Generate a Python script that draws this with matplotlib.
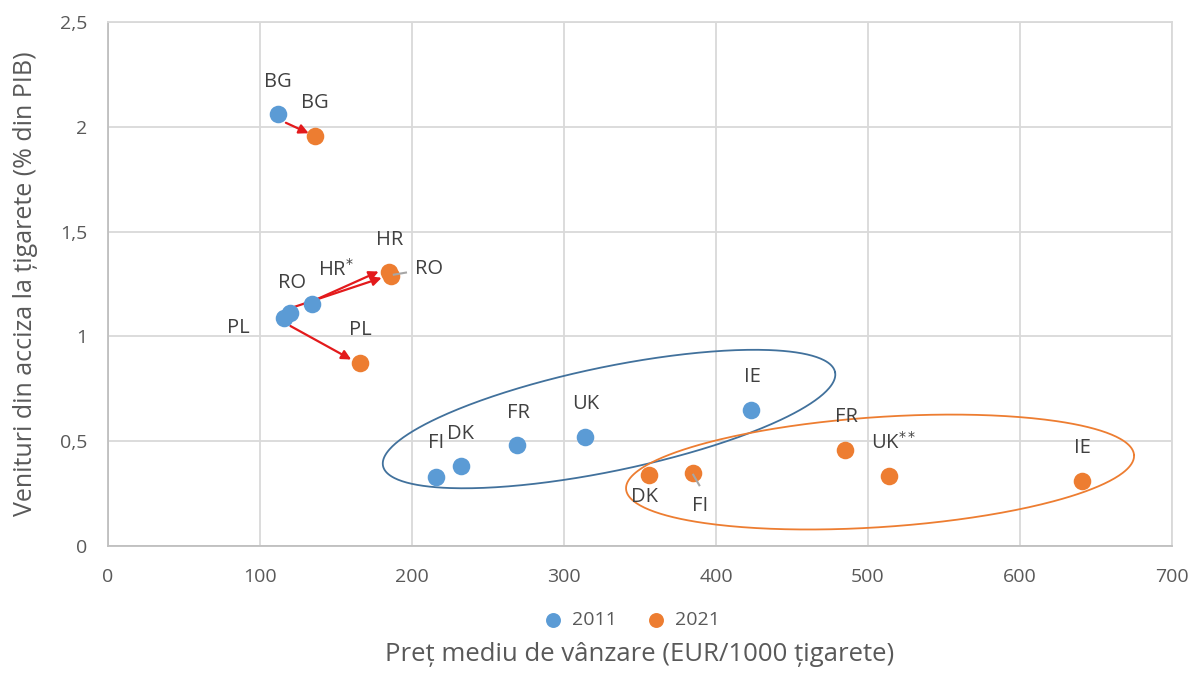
import numpy as np
import matplotlib
matplotlib.use("Agg")
import matplotlib.pyplot as plt

plt.rcParams['font.family'] = ['Open Sans', 'DejaVu Sans']

countries = ["BG", "PL", "RO", "HR", "FI", "DK", "FR", "UK", "IE"]
price_2011 = [112, 116, 120, 134, 216, 232, 269, 314, 423]
excise_2011 = [2.06, 1.09, 1.11, 1.155, 0.33, 0.38, 0.48, 0.52, 0.65]
price_2021 = [136, 166, 186, 185, 385, 356, 485, 514, 641]
excise_2021 = [1.955, 0.875, 1.29, 1.31, 0.35, 0.34, 0.46, 0.335, 0.31]

labels_2011 = {"BG": "BG", "PL": "PL", "RO": "RO", "HR": "HR$^{*}$", "FI": "FI",
               "DK": "DK", "FR": "FR", "UK": "UK", "IE": "IE"}
labels_2021 = {"BG": "BG", "PL": "PL", "RO": "RO", "HR": "HR", "FI": "FI",
               "DK": "DK", "FR": "FR", "UK": "UK$^{**}$", "IE": "IE"}

x_ticks = [0, 100, 200, 300, 400, 500, 600, 700]
y_ticks = [0, 0.5, 1, 1.5, 2, 2.5]
y_tick_labels = ["0", "0,5", "1", "1,5", "2", "2,5"]

BLUE = "#5B9BD5"
ORANGE = "#ED7D31"
TXT = "#404040"
TICK = "#595959"

fig = plt.figure(figsize=(11.94, 6.73), dpi=100)
ax = fig.add_axes([0.0905, 0.1887, 0.8911, 0.7783])
ax.set_xlim(0, 700)
ax.set_ylim(0, 2.5)
ax.set_xticks(x_ticks)
ax.set_yticks(y_ticks)
ax.set_yticklabels(y_tick_labels)
ax.grid(True, color="#D9D9D9", linewidth=1.3, zorder=0)
ax.set_axisbelow(True)
for s in ax.spines.values():
    s.set_color("#D9D9D9")
    s.set_linewidth(1.3)
ax.spines['left'].set_color("#BFBFBF")
ax.spines['bottom'].set_color("#BFBFBF")
ax.tick_params(length=0, labelsize=14, colors=TICK)
ax.tick_params(axis="x", pad=16)
ax.tick_params(axis="y", pad=15)

# ellipses (parametric, defined by center and two conjugate half-vectors in data units)
t = np.linspace(0, 2 * np.pi, 400)
def ell(c, u, v):
    return (c[0] + u[0] * np.cos(t) + v[0] * np.sin(t),
            c[1] + u[1] * np.cos(t) + v[1] * np.sin(t))
ex, ey = ell((329.6, 0.606), (148.7, 0.224), (7.0, -0.243))
ax.plot(ex, ey, color="#41719C", linewidth=1.3, zorder=2)
ex, ey = ell((507.9, 0.353), (167.1, 0.081), (2.4, -0.262))
ax.plot(ex, ey, color=ORANGE, linewidth=1.3, zorder=2)

ax.scatter(price_2011, excise_2011, s=160, color=BLUE, zorder=4, label="2011", linewidths=0)
ax.scatter(price_2021, excise_2021, s=160, color=ORANGE, zorder=4, label="2021", linewidths=0)

# arrows 2011 -> 2021 for BG, PL, RO, HR
arrow_pairs = {"BG": ((117, 2.02), (132, 1.97)),
               "HR": ((138, 1.18), (178, 1.31)),
               "RO": ((122, 1.14), (180, 1.28)),
               "PL": ((120, 1.05), (160, 0.89))}
for k, (a, b) in arrow_pairs.items():
    ax.annotate("", xy=b, xytext=a,
                arrowprops=dict(arrowstyle="-|>", color="#E31A1C", lw=1.6,
                                mutation_scale=14, shrinkA=0, shrinkB=0), zorder=3)

# label positions (text centers)
lab_pos_2011 = {"BG": (112, 2.214), "RO": (121, 1.255), "HR": (150, 1.317), "PL": (86, 1.04),
                "FI": (216, 0.49), "DK": (232, 0.534), "FR": (270, 0.635), "UK": (314, 0.677),
                "IE": (424, 0.806)}
lab_pos_2021 = {"BG": (136, 2.114), "HR": (185, 1.46), "RO": (211, 1.32), "PL": (166, 1.03),
                "DK": (353, 0.234), "FI": (389.5, 0.19), "FR": (485.5, 0.615),
                "UK": (517, 0.49), "IE": (641, 0.467)}
for k, p in lab_pos_2011.items():
    ax.text(p[0], p[1], labels_2011[k], ha="center", va="center", fontsize=14.5, color=TXT, zorder=5)
for k, p in lab_pos_2021.items():
    ax.text(p[0], p[1], labels_2021[k], ha="center", va="center", fontsize=14.5, color=TXT, zorder=5)

# leader lines
ax.plot([188, 196], [1.295, 1.305], color="#A6A6A6", lw=1.5, zorder=5)
ax.plot([385, 389], [0.34, 0.29], color="#A6A6A6", lw=1.5, zorder=5)

ax.set_xlabel("Preț mediu de vânzare (EUR/1000 țigarete)", fontsize=18.5, color=TICK, labelpad=40)
ax.set_ylabel("Venituri din acciza la țigarete (% din PIB)", fontsize=18, color=TICK, labelpad=16)

leg = fig.legend(loc="center", bbox_to_anchor=(0.525, 0.079), ncol=2, frameon=False,
                 fontsize=14, handletextpad=0.0, columnspacing=1.0, markerscale=0.85)
for txt in leg.get_texts():
    txt.set_color(TICK)

fig.savefig("out.png", dpi=100)
